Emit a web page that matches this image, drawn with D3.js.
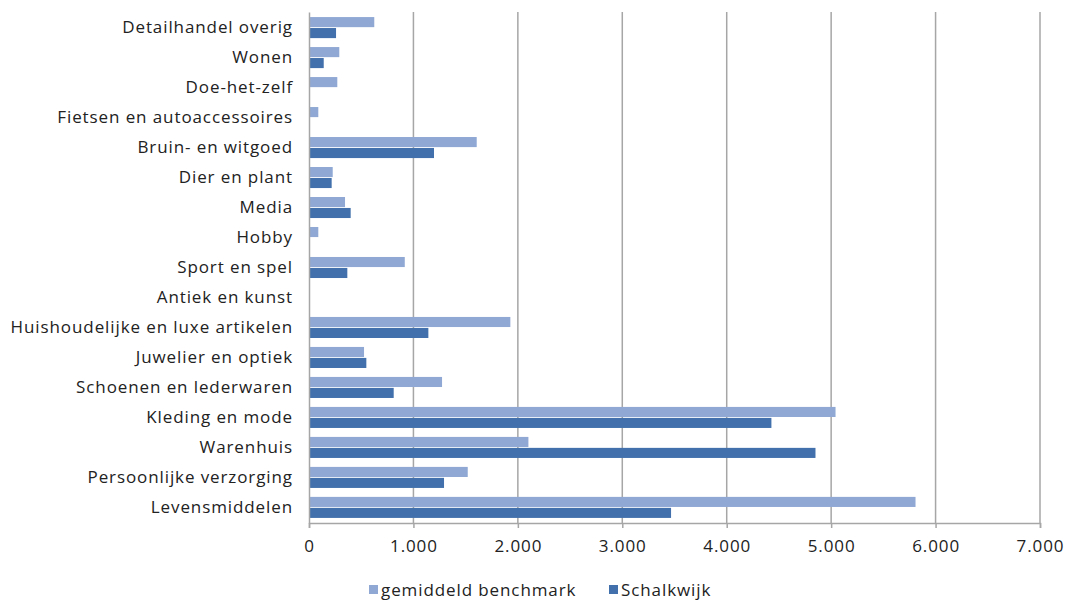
<!DOCTYPE html>
<html>
<head>
<meta charset="utf-8">
<script src="https://cdn.jsdelivr.net/npm/d3@7"></script>
<style>
  body { margin: 0; background: #fff; }
  svg text { font-family: "Open Sans", "Noto Sans", sans-serif; fill: #222; letter-spacing: 0.9px; }
</style>
</head>
<body>
<div id="chart"></div>
<script>
// categories, top to bottom
var categories = [
    "Detailhandel overig", "Wonen", "Doe-het-zelf", "Fietsen en autoaccessoires",
    "Bruin- en witgoed", "Dier en plant", "Media", "Hobby", "Sport en spel",
    "Antiek en kunst", "Huishoudelijke en luxe artikelen", "Juwelier en optiek",
    "Schoenen en lederwaren", "Kleding en mode", "Warenhuis",
    "Persoonlijke verzorging", "Levensmiddelen"
];
var seriesNames = ["gemiddeld benchmark", "Schalkwijk"];
var benchmark = [625, 290, 271, 89, 1606, 227, 345, 89, 917, 0, 1928, 527, 1274, 5042, 2101, 1520, 5808];
var schalkwijk = [259, 141, 0, 0, 1197, 217, 399, 0, 367, 0, 1143, 549, 811, 4428, 4850, 1293, 3467];
var xTicks = [0, 1000, 2000, 3000, 4000, 5000, 6000, 7000];

var width = 1066, height = 601;
var margin = {top: 12, right: 26, bottom: 78, left: 309};
var colors = ["#8fa8d4", "#4170ac"];

var svg = d3.select("#chart").append("svg")
    .attr("width", width)
    .attr("height", height);

var plotBottom = height - margin.bottom;

var x = d3.scaleLinear()
    .domain([0, 7000])
    .range([margin.left, 1040]);
var y = d3.scaleBand()
    .domain(categories)
    .range([margin.top, plotBottom])
    .paddingInner(0.24)
    .paddingOuter(0.14);
var ySub = d3.scaleBand()
    .domain([0, 1])
    .range([0, y.bandwidth()])
    .padding(0.08);

// gridlines
svg.append("g")
    .selectAll("line")
    .data(xTicks.slice(1))
    .join("line")
    .attr("x1", function(d) { return x(d); })
    .attr("x2", function(d) { return x(d); })
    .attr("y1", margin.top)
    .attr("y2", plotBottom)
    .attr("stroke", "#a6a6a6")
    .attr("stroke-width", 1.5);

// bars
var rows = categories.map(function(c, i) { return {cat: c, vals: [benchmark[i], schalkwijk[i]]}; });
svg.append("g")
    .selectAll("g")
    .data(rows)
    .join("g")
    .attr("transform", function(d) { return "translate(0," + y(d.cat) + ")"; })
    .selectAll("rect")
    .data(function(d) { return d.vals.map(function(v, k) { return {k: k, v: v}; }); })
    .join("rect")
    .attr("x", x(0))
    .attr("y", function(d) { return ySub(d.k); })
    .attr("height", ySub.bandwidth())
    .attr("width", function(d) { return x(d.v) - x(0); })
    .attr("fill", function(d) { return colors[d.k]; });

// x axis
var xAxis = d3.axisBottom(x)
    .tickValues(xTicks)
    .tickSize(5)
    .tickPadding(12)
    .tickFormat(function(d) { return d3.format(",")(d).replace(/,/g, "."); });
var gx = svg.append("g")
    .attr("transform", "translate(0," + plotBottom + ")")
    .call(xAxis);
gx.select(".domain").attr("stroke", "#a6a6a6").attr("stroke-width", 1.5);
gx.selectAll(".tick line").attr("stroke", "#a6a6a6").attr("stroke-width", 1.5);
gx.selectAll("text").attr("font-size", 17).attr("fill", "#222");

// y axis
var yAxis = d3.axisLeft(y).tickSize(0).tickPadding(16);
var gy = svg.append("g")
    .attr("transform", "translate(" + margin.left + ",0)")
    .call(yAxis);
gy.select(".domain").attr("stroke", "#a6a6a6").attr("stroke-width", 1.5);
gy.selectAll("text").attr("font-size", 17).attr("fill", "#222");

// legend
var legend = svg.append("g").attr("transform", "translate(0,590)");
var legendX = [369, 609];
seriesNames.forEach(function(name, i) {
    legend.append("rect")
        .attr("x", legendX[i])
        .attr("y", -5)
        .attr("width", 9)
        .attr("height", 9)
        .attr("fill", colors[i]);
    legend.append("text")
        .attr("x", legendX[i] + 12)
        .attr("y", 0)
        .attr("dy", "0.35em")
        .attr("font-size", 17)
        .text(name);
});
</script>
</body>
</html>
